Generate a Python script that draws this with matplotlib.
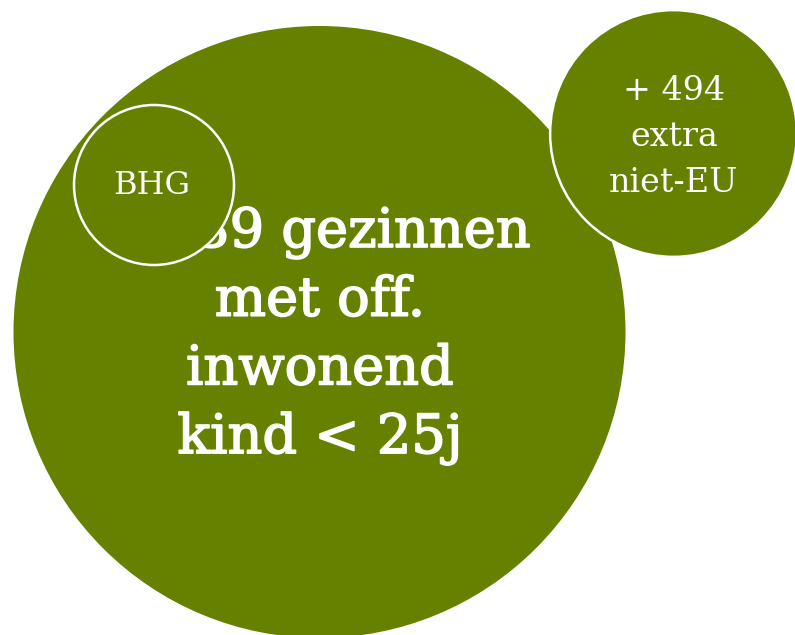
import numpy as np
import matplotlib
matplotlib.use('Agg')
import matplotlib.pyplot as plt
import matplotlib.patheffects as pe
from matplotlib.patches import Circle

# values
main_value = 3039
main_lines = ['3.039 gezinnen', 'met off.', 'inwonend', 'kind < 25j']
extra_value = 494
extra_lines = ['+ 494', 'extra', 'niet-EU']
region_label = 'BHG'

green = '#668000'
font = 'DejaVu Serif'

# sqrt scale: area proportional to value
k = 306 / np.sqrt(main_value)
r_main = k * np.sqrt(main_value)
r_extra = k * np.sqrt(extra_value)
r_label = 80

fig = plt.figure(figsize=(7.95, 6.35), dpi=100)
ax = fig.add_axes([0, 0, 1, 1])
ax.set_xlim(0, 795)
ax.set_ylim(635, 0)
ax.set_aspect('equal')
ax.axis('off')

# slightly heavier strokes for the big label
heavy = [pe.withStroke(linewidth=1.2, foreground='white')]

# main bubble
ax.add_patch(Circle((319.5, 332), r_main, facecolor=green, edgecolor='none', zorder=1))
for i, line in enumerate(main_lines):
    ax.text(320, 247 + i * 68.7, line, color='white', fontsize=39, family=font,
            ha='center', va='baseline', zorder=2, path_effects=heavy)

# extra bubble
ax.add_patch(Circle((673.5, 133.5), r_extra, facecolor=green, edgecolor='white',
                    linewidth=1.8, zorder=3))
for i, line in enumerate(extra_lines):
    ax.text(674, 100 + i * 46, line, color='white', fontsize=24, family=font,
            ha='center', va='baseline', zorder=4)

# region label bubble
ax.add_patch(Circle((154, 185), r_label, facecolor=green, edgecolor='white',
                    linewidth=1.8, zorder=5))
ax.text(152, 185, region_label, color='white', fontsize=23, family=font,
        ha='center', va='center', zorder=6)

fig.savefig('out.png', dpi=100)
